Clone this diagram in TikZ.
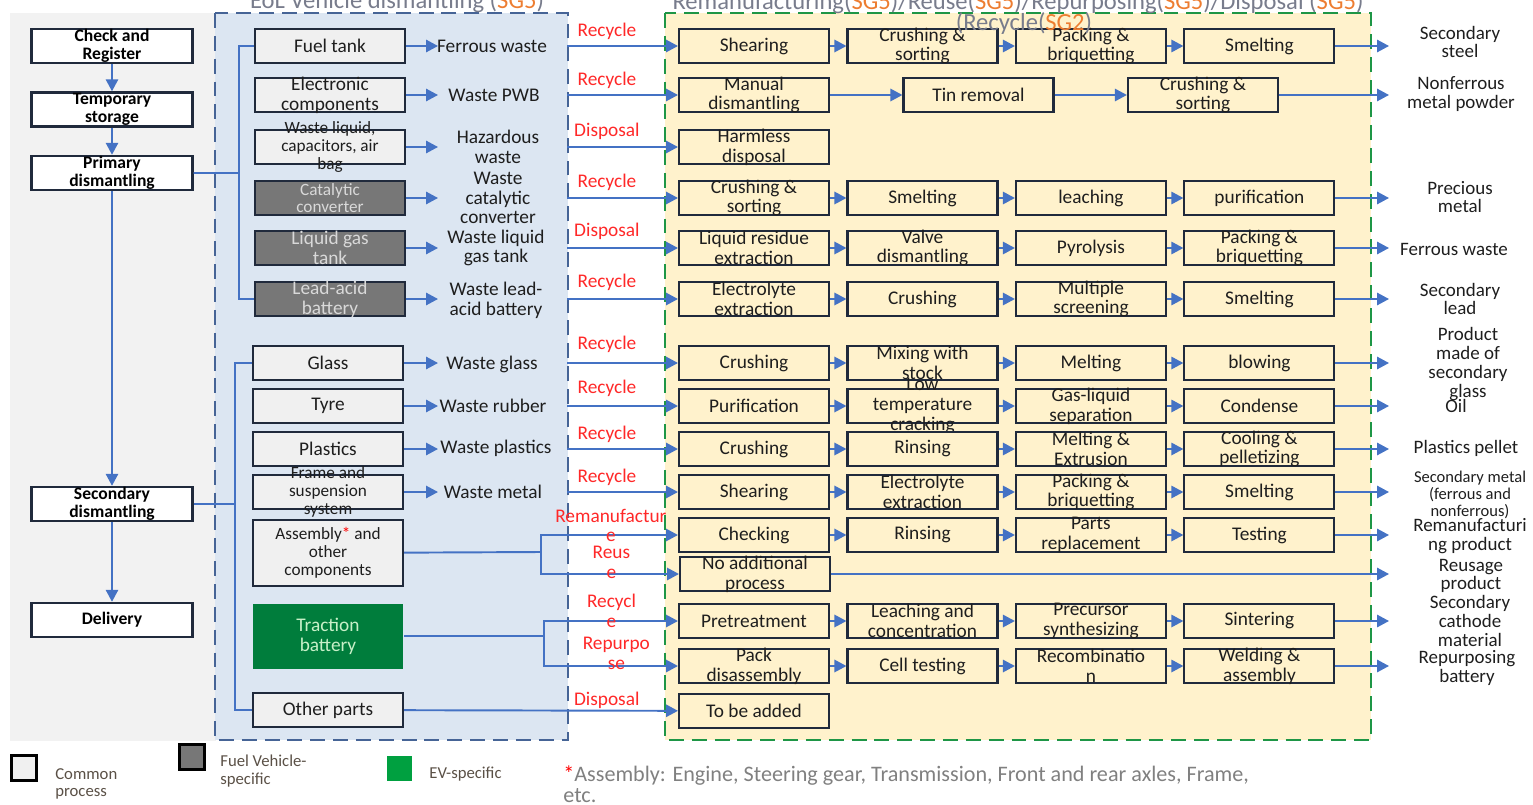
\documentclass[tikz,border=0pt]{standalone}
\usepackage{fontspec}
\setmainfont{Carlito}
\usetikzlibrary{arrows.meta}
\definecolor{bggray}{HTML}{F2F2F2}
\definecolor{bluefill}{HTML}{DCE6F2}
\definecolor{bluedash}{RGB}{70,100,150}
\definecolor{yfill}{HTML}{FFF2CC}
\definecolor{greendash}{RGB}{30,150,70}
\definecolor{lnblue}{HTML}{4472C4}
\definecolor{bord}{RGB}{32,42,60}
\definecolor{ink}{RGB}{30,30,30}
\definecolor{partfill}{HTML}{F0F0F0}
\definecolor{fuelfill}{HTML}{777777}
\definecolor{fueltxt}{HTML}{D9D9D9}
\definecolor{tracfill}{RGB}{0,125,60}
\definecolor{tractxt}{RGB}{200,240,200}
\definecolor{evgreen}{RGB}{0,160,64}
\definecolor{redlbl}{RGB}{255,40,40}
\definecolor{ttl}{RGB}{120,124,140}
\definecolor{sgorange}{HTML}{ED7D31}
\definecolor{legtxt}{RGB}{90,80,70}
\definecolor{notegray}{HTML}{808080}
\begin{document}
\begin{tikzpicture}[x=0.02cm, y=-0.02cm, node distance=3.37cm,
    txt/.style={font=\fontsize{11}{11.3}\selectfont, text=ink, align=center, inner sep=0pt},
    stxt/.style={txt, font=\fontsize{9.8}{10.1}\selectfont},
    btxt/.style={txt, font=\bfseries\fontsize{10}{10.3}\selectfont, text=black},
    otxt/.style={txt, font=\fontsize{10.8}{10.7}\selectfont},
    rl/.style={txt, text=redlbl},
    ttxt/.style={anchor=base, inner sep=0pt, font=\fontsize{14}{14}\selectfont, text=ttl},
    cellbox/.style={line width=1.2pt, minimum width=3cm, minimum height=0.68cm, inner sep=0pt},
    pbox/.style={cellbox, draw=bord, fill=yfill, label={[txt]center:#1}},
    part/.style={cellbox, draw=bord, fill=partfill, label={[txt]center:#1}},
    spart/.style={cellbox, draw=bord, fill=partfill, label={[stxt]center:#1}},
    fpart/.style={cellbox, draw=bord, fill=fuelfill, label={[txt, text=fueltxt]center:#1}},
    sfpart/.style={cellbox, draw=bord, fill=fuelfill, label={[stxt, text=fueltxt]center:#1}},
    tpart/.style={cellbox, fill=tracfill, label={[txt, text=tractxt]center:#1}},
    stage/.style={cellbox, draw=bord, line width=1.4pt, fill=white, minimum width=3.22cm, label={[btxt]center:#1}},
    arr/.style={draw=lnblue, line width=1.1pt, -{Triangle[length=6.8pt, width=7pt]}},
    ln/.style={draw=lnblue, line width=1.1pt},
    dashbox/.style={line width=1.4pt, dash pattern=on 8.5pt off 4.5pt},
    legtext/.style={font=\fontsize{9.5}{10}\selectfont, text=legtxt, align=left, inner sep=0pt, anchor=west}]
    \useasboundingbox (0,0) rectangle (1533,804);

    % panels
    \fill[bggray] (10,13) rectangle (216,741);
    \draw[dashbox, draw=bluedash, fill=bluefill] (215,13) rectangle (568,740);
    \draw[dashbox, draw=greendash, fill=yfill] (665,13) rectangle (1371,740);

    % helper columns
    \coordinate (wx) at (438,0);
    \coordinate (bx) at (567,0);
    \coordinate (ex) at (1389,0);

    % main stages
    \node[stage={Check and\\Register}] (chk) at (112,46) {};
    \node[stage={Temporary\\storage}] (tmp) [below of=chk, node distance=1.27cm] {};
    \node[stage={Primary\\dismantling}] (pri) [below of=tmp, node distance=1.27cm] {};
    \node[stage={Secondary\\dismantling}] (sec) at (112,504) {};
    \node[stage={Delivery}] (del) [below of=sec, node distance=2.32cm] {};

    \draw[arr] (chk) -- (tmp);
    \draw[arr] (tmp) -- (pri);
    \draw[arr] (pri) -- (sec);
    \draw[arr] (sec) -- (del);

    % dismantled parts
    \node[part={Fuel tank}] (fuel) at (330,46) {};
    \node[part={Electronic\\components}] (elec) at (330,95) {};
    \node[spart={Waste liquid,\\capacitors, air\\bag}] (liq) at (330,147) {};
    \node[sfpart={Catalytic\\converter}] (cat) at (330,198) {};
    \node[fpart={Liquid gas\\tank}] (lpg) at (330,248) {};
    \node[fpart={Lead-acid\\battery}] (lead) at (330,299) {};
    \node[part={Glass}] (glass) at (328,363) {};
    \node[part={Tyre}] (tyre) at (328,406) {};
    \node[part={Plastics}] (plas) at (328,449) {};
    \node[spart={Frame and\\suspension\\system}] (frame) at (328,492) {};
    \node[spart={Assembly\textcolor{red}{*} and\\other\\components}, minimum height=1.32cm] (asm) at (328,553) {};
    \node[tpart={Traction\\battery}, minimum height=1.3cm] (trac) at (328,636) {};
    \node[part={Other parts}] (other) at (328,710) {};

    \coordinate (br1) at (239,173);
    \coordinate (br2) at (235,504);
    \draw[ln] (pri) -- (br1);
    \draw[ln] (fuel) -| (br1) |- (lead);
    \draw[ln] (sec) -- (br2);
    \draw[ln] (glass) -| (br2) |- (other);

    % wastes
    \node[txt] (w1) at (492,46) {Ferrous waste};
    \node[txt] (w2) at (494,95) {Waste PWB};
    \node[txt] (w3) at (498,147) {Hazardous\\waste};
    \node[txt] (w4) at (498,198) {Waste\\catalytic\\converter};
    \node[txt] (w5) at (496,248) {Waste liquid\\gas tank};
    \node[txt] (w6) at (496,300) {Waste lead-\\acid battery};
    \node[txt] (w7) at (492,364) {Waste glass};
    \node[txt] (w8) at (493,406) {Waste rubber};
    \node[txt] (w9) at (496,448) {Waste plastics};
    \node[txt] (w10) at (493,492) {Waste metal};

    \draw[arr] (fuel) -- (fuel -| wx);
    \draw[arr] (elec) -- (elec -| wx);
    \draw[arr] (liq) -- (liq -| wx);
    \draw[arr] (cat) -- (cat -| wx);
    \draw[arr] (lpg) -- (lpg -| wx);
    \draw[arr] (lead) -- (lead -| wx);
    \draw[arr] (glass) -- (glass -| wx);
    \draw[arr] (tyre) -- (tyre -| wx);
    \draw[arr] (plas) -- (plas -| wx);
    \draw[arr] (frame) -- (frame -| wx);

    % process chains
    \node[pbox={Shearing}] (a1) at (754,46) {};
    \node[pbox={Crushing \&\\sorting}] (a2) [right of=a1] {};
    \node[pbox={Packing \&\\briquetting}] (a3) [right of=a2] {};
    \node[pbox={Smelting}] (a4) [right of=a3] {};

    \node[pbox={Manual\\dismantling}] (b1) at (754,95) {};
    \node[pbox={Tin removal}] (b2) [right of=b1, xshift=1.12cm] {};
    \node[pbox={Crushing \&\\sorting}] (b3) [right of=b2, xshift=1.12cm] {};

    \node[pbox={Harmless\\disposal}] (c1) at (754,147) {};

    \node[pbox={Crushing \&\\sorting}] (d1) at (754,198) {};
    \node[pbox={Smelting}] (d2) [right of=d1] {};
    \node[pbox={leaching}] (d3) [right of=d2] {};
    \node[pbox={purification}] (d4) [right of=d3] {};

    \node[pbox={Liquid residue\\extraction}] (e1) at (754,248) {};
    \node[pbox={Valve\\dismantling}] (e2) [right of=e1] {};
    \node[pbox={Pyrolysis}] (e3) [right of=e2] {};
    \node[pbox={Packing \&\\briquetting}] (e4) [right of=e3] {};

    \node[pbox={Electrolyte\\extraction}] (f1) at (754,299) {};
    \node[pbox={Crushing}] (f2) [right of=f1] {};
    \node[pbox={Multiple\\screening}] (f3) [right of=f2] {};
    \node[pbox={Smelting}] (f4) [right of=f3] {};

    \node[pbox={Crushing}] (g1) at (754,363) {};
    \node[pbox={Mixing with\\stock}] (g2) [right of=g1] {};
    \node[pbox={Melting}] (g3) [right of=g2] {};
    \node[pbox={blowing}] (g4) [right of=g3] {};

    \node[pbox={Purification}] (h1) at (754,406) {};
    \node[pbox={Low\\temperature\\cracking}] (h2) [right of=h1] {};
    \node[pbox={Gas-liquid\\separation}] (h3) [right of=h2] {};
    \node[pbox={Condense}] (h4) [right of=h3] {};

    \node[pbox={Crushing}] (i1) at (754,449) {};
    \node[pbox={Rinsing}] (i2) [right of=i1] {};
    \node[pbox={Melting \&\\Extrusion}] (i3) [right of=i2] {};
    \node[pbox={Cooling \&\\pelletizing}] (i4) [right of=i3] {};

    \node[pbox={Shearing}] (j1) at (754,492) {};
    \node[pbox={Electrolyte\\extraction}] (j2) [right of=j1] {};
    \node[pbox={Packing \&\\briquetting}] (j3) [right of=j2] {};
    \node[pbox={Smelting}] (j4) [right of=j3] {};

    \node[pbox={Checking}] (k1) at (754,535) {};
    \node[pbox={Rinsing}] (k2) [right of=k1] {};
    \node[pbox={Parts\\replacement}] (k3) [right of=k2] {};
    \node[pbox={Testing}] (k4) [right of=k3] {};

    \node[pbox={No additional\\process}] (l1) at (755,574) {};

    \node[pbox={Pretreatment}] (m1) at (754,621) {};
    \node[pbox={Leaching and\\concentration}] (m2) [right of=m1] {};
    \node[pbox={Precursor\\synthesizing}] (m3) [right of=m2] {};
    \node[pbox={Sintering}] (m4) [right of=m3] {};

    \node[pbox={Pack\\disassembly}] (n1) at (754,666) {};
    \node[pbox={Cell testing}] (n2) [right of=n1] {};
    \node[pbox={Recombinatio\\n}] (n3) [right of=n2] {};
    \node[pbox={Welding \&\\assembly}] (n4) [right of=n3] {};

    \node[pbox={To be added}] (r1) at (754,711) {};

    % routes into the chains
    \draw[arr] (a1 -| bx) -- node[rl, pos=.36, yshift=.3cm] {Recycle} (a1);
    \draw[arr] (b1 -| bx) -- node[rl, pos=.36, yshift=.3cm] {Recycle} (b1);
    \draw[arr] (c1 -| bx) -- node[rl, pos=.36, yshift=.32cm] {Disposal} (c1);
    \draw[arr] (d1 -| bx) -- node[rl, pos=.36, yshift=.32cm] {Recycle} (d1);
    \draw[arr] (e1 -| bx) -- node[rl, pos=.36, yshift=.34cm] {Disposal} (e1);
    \draw[arr] (f1 -| bx) -- node[rl, pos=.36, yshift=.34cm] {Recycle} (f1);
    \draw[arr] (g1 -| bx) -- node[rl, pos=.36, yshift=.38cm] {Recycle} (g1);
    \draw[arr] (h1 -| bx) -- node[rl, pos=.36, yshift=.36cm] {Recycle} (h1);
    \draw[arr] (i1 -| bx) -- node[rl, pos=.36, yshift=.3cm] {Recycle} (i1);
    \draw[arr] (j1 -| bx) -- node[rl, pos=.36, yshift=.3cm] {Recycle} (j1);

    \coordinate (sp1) at (541,552);
    \coordinate (sp2) at (544,636);
    \draw[ln] (asm) -- (sp1);
    \draw[arr] (sp1) |- node[rl, pos=.755, yshift=.19cm] {Remanufactur\\e} (k1);
    \draw[arr] (sp1) |- node[rl, pos=.755, yshift=.23cm] {Reus\\e} (l1);
    \draw[ln] (trac) -- (sp2);
    \draw[arr] (sp2) |- node[rl, pos=.752, yshift=.2cm] {Recycl\\e} (m1);
    \draw[arr] (sp2) |- node[rl, pos=.77, yshift=.26cm] {Repurpo\\se} (n1);
    \draw[arr] (other) -- node[rl, pos=.74, yshift=.2cm] {Disposal} (r1);

    % steps
    \draw[arr] (a1) -- (a2);
    \draw[arr] (a2) -- (a3);
    \draw[arr] (a3) -- (a4);
    \draw[arr] (b1) -- (b2);
    \draw[arr] (b2) -- (b3);
    \draw[arr] (d1) -- (d2);
    \draw[arr] (d2) -- (d3);
    \draw[arr] (d3) -- (d4);
    \draw[arr] (e1) -- (e2);
    \draw[arr] (e2) -- (e3);
    \draw[arr] (e3) -- (e4);
    \draw[arr] (f1) -- (f2);
    \draw[arr] (f2) -- (f3);
    \draw[arr] (f3) -- (f4);
    \draw[arr] (g1) -- (g2);
    \draw[arr] (g2) -- (g3);
    \draw[arr] (g3) -- (g4);
    \draw[arr] (h1) -- (h2);
    \draw[arr] (h2) -- (h3);
    \draw[arr] (h3) -- (h4);
    \draw[arr] (i1) -- (i2);
    \draw[arr] (i2) -- (i3);
    \draw[arr] (i3) -- (i4);
    \draw[arr] (j1) -- (j2);
    \draw[arr] (j2) -- (j3);
    \draw[arr] (j3) -- (j4);
    \draw[arr] (k1) -- (k2);
    \draw[arr] (k2) -- (k3);
    \draw[arr] (k3) -- (k4);
    \draw[arr] (m1) -- (m2);
    \draw[arr] (m2) -- (m3);
    \draw[arr] (m3) -- (m4);
    \draw[arr] (n1) -- (n2);
    \draw[arr] (n2) -- (n3);
    \draw[arr] (n3) -- (n4);

    % products
    \node[otxt] (oa) at (1460,42) {Secondary\\steel};
    \node[otxt] (ob) at (1461,94) {Nonferrous\\metal powder};
    \node[otxt] (od) at (1460,197) {Precious\\metal};
    \node[otxt] (oe) at (1454,249) {Ferrous waste};
    \node[otxt] (of) at (1460,299) {Secondary\\lead};
    \node[otxt] (og) at (1468,364) {Product\\made of\\secondary\\glass};
    \node[otxt] (oh) at (1456,406) {Oil};
    \node[otxt] (oi) at (1466,448) {Plastics pellet};
    \node[otxt, font=\fontsize{9.4}{9.6}\selectfont] (oj) at (1470,495) {Secondary metal\\(ferrous and\\nonferrous)};
    \node[otxt] (ok) at (1470,536) {Remanufacturi\\ng product};
    \node[otxt] (ol) at (1471,576) {Reusage\\product};
    \node[otxt] (om) at (1470,621) {Secondary\\cathode\\material};
    \node[otxt] (on) at (1467,668) {Repurposing\\battery};

    \draw[arr] (a4) -- (a4 -| ex);
    \draw[arr] (b3) -- (b3 -| ex);
    \draw[arr] (d4) -- (d4 -| ex);
    \draw[arr] (e4) -- (e4 -| ex);
    \draw[arr] (f4) -- (f4 -| ex);
    \draw[arr] (g4) -- (g4 -| ex);
    \draw[arr] (h4) -- (h4 -| ex);
    \draw[arr] (i4) -- (i4 -| ex);
    \draw[arr] (j4) -- (j4 -| ex);
    \draw[arr] (k4) -- (k4 -| ex);
    \draw[arr] (l1) -- (l1 -| ex);
    \draw[arr] (m4) -- (m4 -| ex);
    \draw[arr] (n4) -- (n4 -| ex);

    % titles
    \node[ttxt] (t1) at (397,9) {EoL Vehicle dismantling (\textcolor{sgorange}{SG5})};
    \node[ttxt] (t2) at (1018,10) {Remanufacturing(\textcolor{sgorange}{SG5})/Reuse(\textcolor{sgorange}{SG5})/Repurposing(\textcolor{sgorange}{SG5})/Disposal (\textcolor{sgorange}{SG5})};
    \node[ttxt] (t3) at (1024,31) {(Recycle(\textcolor{sgorange}{SG2})};

    % legend
    \node[draw=black, line width=1.3pt, fill=partfill, minimum size=0.5cm, inner sep=0pt] (lg1) at (24,768) {};
    \node[legtext] (lt1) at (55,784) {Common\\process};
    \node[draw=black, line width=1.3pt, fill=fuelfill, minimum size=0.5cm, inner sep=0pt] (lg2) at (192,757) {};
    \node[legtext] (lt2) at (220,771) {Fuel Vehicle-\\specific};
    \node[fill=evgreen, minimum size=0.5cm, inner sep=0pt] (lg3) at (399,768) {};
    \node[legtext] (lt3) at (429,774) {EV-specific};
    \node[anchor=west, align=left, inner sep=0pt, font=\fontsize{12.6}{12}\selectfont, text=notegray] (note) at (563,784) {\textcolor{red}{*}Assembly: Engine, Steering gear, Transmission, Front and rear axles, Frame,\\etc.};
\end{tikzpicture}
\end{document}
